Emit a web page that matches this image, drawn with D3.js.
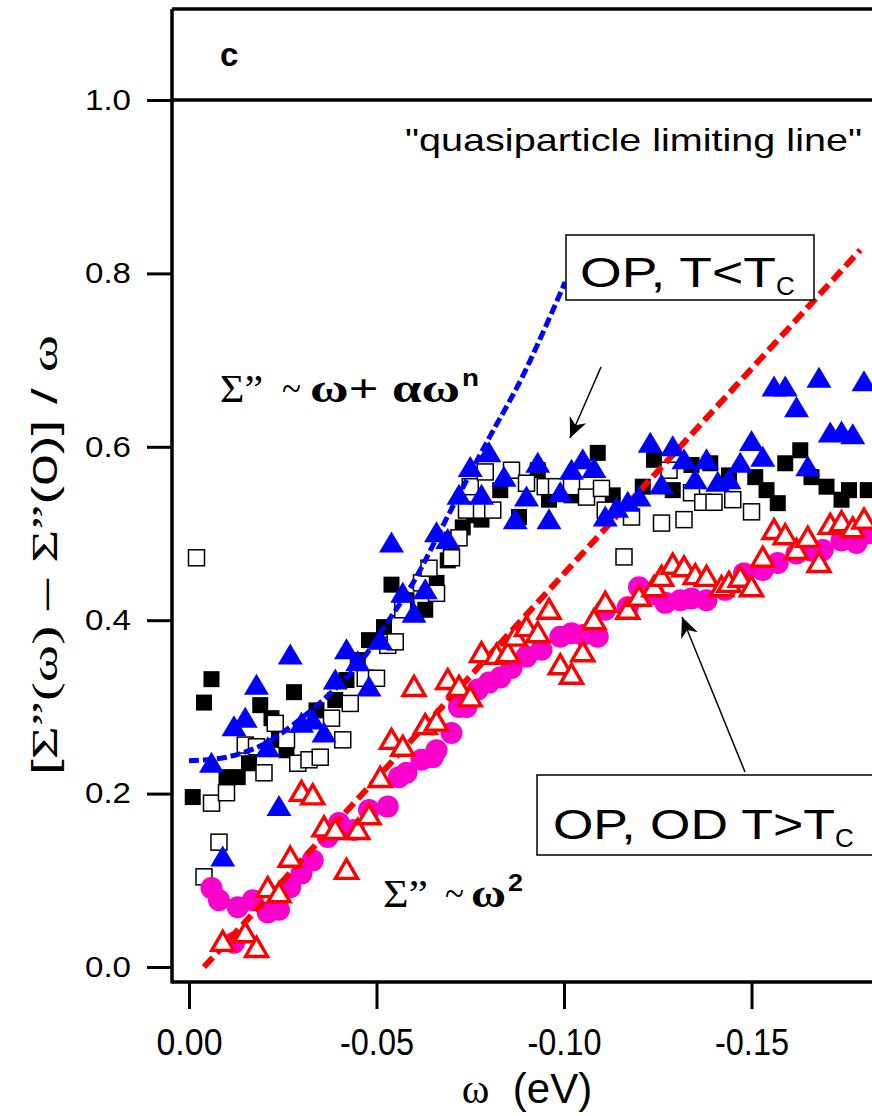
<html>
<head>
<meta charset="utf-8">
<script src="https://d3js.org/d3.v7.min.js"></script>
<style>
  body { margin: 0; background: #fff; }
  text { font-family: "Liberation Sans", Arial, sans-serif; }
  .serif { font-family: "Liberation Serif", "Times New Roman", serif; }
</style>
</head>
<body>
<svg id="chart"></svg>
<script>
// data: [omega (eV), (Σ''(ω)-Σ''(0))/ω]
const solidSquares = [
  [-0.001,0.196],[-0.004,0.305],[-0.006,0.332],[-0.010,0.219],[-0.013,0.219],[-0.016,0.235],
  [-0.019,0.302],[-0.022,0.287],[-0.024,0.262],[-0.028,0.317],[-0.026,0.250],[-0.034,0.296],
  [-0.039,0.308],[-0.042,0.331],[-0.045,0.354],[-0.048,0.377],[-0.052,0.392],[-0.054,0.441],
  [-0.058,0.423],[-0.063,0.412],[-0.066,0.443],[-0.069,0.469],[-0.070,0.493],[-0.073,0.507],
  [-0.076,0.521],[-0.078,0.516],[-0.083,0.550],[-0.088,0.519],[-0.093,0.573],[-0.096,0.539],
  [-0.102,0.544],[-0.109,0.593],[-0.113,0.544],[-0.121,0.554],[-0.124,0.585],[-0.129,0.550],
  [-0.134,0.579],[-0.139,0.581],[-0.144,0.567],[-0.151,0.565],[-0.154,0.550],[-0.157,0.535],
  [-0.159,0.581],[-0.163,0.596],[-0.166,0.565],[-0.170,0.554],[-0.174,0.539],[-0.176,0.550],
  [-0.181,0.550]
];
const openSquares = [
  [-0.002,0.472],[-0.004,0.104],[-0.008,0.144],[-0.006,0.189],[-0.010,0.201],[-0.015,0.256],
  [-0.018,0.254],[-0.020,0.224],[-0.023,0.281],[-0.026,0.262],[-0.029,0.235],[-0.032,0.239],
  [-0.035,0.242],[-0.038,0.287],[-0.041,0.262],[-0.043,0.304],[-0.047,0.333],[-0.050,0.333],
  [-0.053,0.371],[-0.055,0.375],[-0.057,0.412],[-0.062,0.443],[-0.064,0.460],[-0.066,0.431],
  [-0.070,0.472],[-0.072,0.495],[-0.074,0.527],[-0.075,0.554],[-0.078,0.527],[-0.079,0.571],
  [-0.081,0.527],[-0.086,0.573],[-0.090,0.558],[-0.095,0.554],[-0.098,0.554],[-0.102,0.554],
  [-0.106,0.542],[-0.110,0.552],[-0.111,0.527],[-0.116,0.473],[-0.118,0.519],[-0.126,0.512],
  [-0.128,0.573],[-0.132,0.516],[-0.134,0.547],[-0.137,0.536],[-0.140,0.536],[-0.145,0.539],
  [-0.150,0.525]
];
const blueTriangles = [
  [-0.009,0.127],[-0.024,0.185],[-0.006,0.235],[-0.012,0.277],[-0.015,0.287],[-0.018,0.325],
  [-0.021,0.253],[-0.027,0.360],[-0.030,0.281],[-0.033,0.285],[-0.036,0.270],[-0.039,0.331],
  [-0.042,0.366],[-0.045,0.352],[-0.048,0.323],[-0.051,0.377],[-0.054,0.489],[-0.057,0.431],
  [-0.060,0.408],[-0.063,0.435],[-0.066,0.501],[-0.069,0.493],[-0.072,0.544],[-0.075,0.576],
  [-0.078,0.544],[-0.080,0.593],[-0.084,0.565],[-0.087,0.516],[-0.090,0.542],[-0.093,0.581],
  [-0.096,0.516],[-0.099,0.547],[-0.102,0.573],[-0.105,0.585],[-0.108,0.575],[-0.111,0.519],
  [-0.114,0.529],[-0.117,0.536],[-0.120,0.542],[-0.123,0.604],[-0.126,0.556],[-0.129,0.600],
  [-0.132,0.585],[-0.135,0.562],[-0.138,0.585],[-0.141,0.559],[-0.144,0.562],[-0.147,0.581],
  [-0.150,0.606],[-0.153,0.588],[-0.156,0.669],[-0.159,0.669],[-0.162,0.645],[-0.165,0.577],
  [-0.168,0.679],[-0.171,0.616],[-0.174,0.617],[-0.177,0.614],[-0.180,0.675]
];
const redTriangles = [
  [-0.009,0.029],[-0.015,0.039],[-0.018,0.022],[-0.021,0.091],[-0.024,0.085],[-0.027,0.126],
  [-0.030,0.202],[-0.033,0.198],[-0.036,0.161],[-0.039,0.158],[-0.042,0.112],[-0.045,0.158],
  [-0.048,0.175],[-0.051,0.218],[-0.054,0.262],[-0.057,0.254],[-0.060,0.323],[-0.063,0.279],
  [-0.066,0.283],[-0.069,0.331],[-0.072,0.323],[-0.075,0.311],[-0.078,0.362],[-0.082,0.360],
  [-0.085,0.362],[-0.087,0.381],[-0.090,0.392],[-0.093,0.385],[-0.096,0.412],[-0.099,0.348],
  [-0.102,0.337],[-0.105,0.363],[-0.108,0.400],[-0.111,0.420],[-0.117,0.412],[-0.120,0.427],
  [-0.124,0.438],[-0.126,0.450],[-0.129,0.464],[-0.132,0.461],[-0.135,0.452],[-0.138,0.450],
  [-0.142,0.438],[-0.144,0.443],[-0.147,0.449],[-0.150,0.438],[-0.153,0.472],[-0.156,0.504],
  [-0.159,0.498],[-0.162,0.481],[-0.165,0.495],[-0.168,0.466],[-0.171,0.510],[-0.174,0.513],
  [-0.177,0.506],[-0.180,0.516]
];
const magentaCircles = [
  [-0.012,0.028],[-0.006,0.091],[-0.008,0.077],[-0.013,0.069],[-0.017,0.077],[-0.021,0.063],
  [-0.024,0.066],[-0.027,0.092],[-0.030,0.108],[-0.033,0.123],[-0.037,0.150],[-0.040,0.166],
  [-0.044,0.158],[-0.048,0.181],[-0.053,0.185],[-0.056,0.219],[-0.058,0.224],[-0.062,0.239],
  [-0.065,0.242],[-0.066,0.250],[-0.070,0.270],[-0.072,0.300],[-0.074,0.300],[-0.077,0.320],
  [-0.080,0.328],[-0.083,0.334],[-0.086,0.345],[-0.090,0.358],[-0.094,0.366],[-0.099,0.381],
  [-0.102,0.385],[-0.105,0.383],[-0.109,0.381],[-0.111,0.412],[-0.117,0.415],[-0.120,0.438],
  [-0.124,0.430],[-0.127,0.420],[-0.131,0.423],[-0.134,0.425],[-0.138,0.423],[-0.143,0.435],
  [-0.148,0.454],[-0.153,0.458],[-0.157,0.466],[-0.162,0.477],[-0.166,0.480],[-0.169,0.481],
  [-0.174,0.492],[-0.178,0.489],[-0.181,0.500]
];
// fitted curves as drawn on the figure
const blueFit = [
  [0.000,0.238],[-0.010,0.242],[-0.020,0.257],[-0.027,0.277],[-0.035,0.305],[-0.045,0.348],
  [-0.053,0.398],[-0.060,0.445],[-0.069,0.520],[-0.080,0.610],[-0.088,0.673],[-0.094,0.728],
  [-0.1003,0.790]
];
const redFit = [[-0.004,0.0],[-0.179,0.827]];

const xTicks = [0, -0.05, -0.10, -0.15];
const yTicks = [0, 0.2, 0.4, 0.6, 0.8, 1.0];

const W = 872, H = 1116;
const svg = d3.select('#chart').attr('width', W).attr('height', H);
svg.append('rect').attr('width', W).attr('height', H).attr('fill', '#fff');

const pl = 172, pr = 872, pt = 9, pb = 982;
const x = d3.scaleLinear().domain([0.00453, -0.18213]).range([pl, pr]);
const y = d3.scaleLinear().domain([0, 1]).range([967, 100]);

// axes
const yAxis = svg.append('g').attr('transform', `translate(${pl},0)`)
  .call(d3.axisLeft(y).tickValues(yTicks).tickSize(25).tickPadding(16)
    .tickFormat(d => d.toFixed(1)));
yAxis.select('.domain').remove();
yAxis.selectAll('line').attr('stroke-width', 3);
yAxis.selectAll('text').attr('font-size', 29).attr('fill', '#000')
  .attr('font-family', '"Liberation Sans", Arial, sans-serif')
  .attr('textLength', 46).attr('lengthAdjust', 'spacingAndGlyphs');

const xAxis = svg.append('g').attr('transform', `translate(0,${pb})`)
  .call(d3.axisBottom(x).tickValues(xTicks).tickSize(27).tickPadding(20)
    .tickFormat(d => d.toFixed(2)));
xAxis.select('.domain').remove();
xAxis.selectAll('line').attr('stroke-width', 3);
xAxis.selectAll('text').attr('font-size', 37).attr('fill', '#000')
  .attr('font-family', '"Liberation Sans", Arial, sans-serif')
  .attr('textLength', d => d === 0 ? 66 : 74).attr('lengthAdjust', 'spacingAndGlyphs');

// frame
const frame = svg.append('g').attr('stroke', '#000').attr('stroke-width', 3.5);
frame.append('line').attr('x1', pl).attr('x2', pl).attr('y1', pt).attr('y2', pb + 1.5);
frame.append('line').attr('x1', pl).attr('x2', pr).attr('y1', pt).attr('y2', pt);
frame.append('line').attr('x1', pl).attr('x2', pr).attr('y1', pb).attr('y2', pb);
frame.append('line').attr('x1', pl).attr('x2', pr).attr('y1', y(1)).attr('y2', y(1));

svg.append('text').attr('x', 220).attr('y', 66).attr('font-size', 33).attr('font-weight', 'bold').text('c');
svg.append('text').attr('x', 405).attr('y', 151).attr('font-size', 32)
  .attr('textLength', 457).attr('lengthAdjust', 'spacingAndGlyphs')
  .text('"quasiparticle limiting line"');

// y title
const yt = svg.append('text').attr('transform', 'translate(57,555) rotate(-90)')
  .attr('text-anchor', 'middle').attr('font-size', 35)
  .attr('textLength', 440).attr('lengthAdjust', 'spacingAndGlyphs');
yt.append('tspan').text('[');
yt.append('tspan').attr('class', 'serif').text('Σ”(ω)');
yt.append('tspan').text(' – ');
yt.append('tspan').attr('class', 'serif').text('Σ”');
yt.append('tspan').text('(0)] / ');
yt.append('tspan').attr('class', 'serif').text('ω');

// x title
const xt = svg.append('text').attr('x', 527).attr('y', 1103).attr('text-anchor', 'middle').attr('font-size', 42);
xt.append('tspan').attr('class', 'serif').text('ω');
xt.append('tspan').text('\u00a0 (eV)');

// markers
const plot = svg.append('g');
const sq = 16;
plot.selectAll('.bsq').data(solidSquares).join('rect').attr('class', 'bsq')
  .attr('x', d => x(d[0]) - sq / 2).attr('y', d => y(d[1]) - sq / 2)
  .attr('width', sq).attr('height', sq).attr('fill', '#000');
plot.selectAll('.osq').data(openSquares).join('rect').attr('class', 'osq')
  .attr('x', d => x(d[0]) - sq / 2).attr('y', d => y(d[1]) - sq / 2)
  .attr('width', sq).attr('height', sq).attr('fill', '#fff')
  .attr('stroke', '#000').attr('stroke-width', 1.5);
plot.selectAll('.mc').data(magentaCircles).join('circle').attr('class', 'mc')
  .attr('cx', d => x(d[0])).attr('cy', d => y(d[1])).attr('r', 11).attr('fill', '#ff00cc');

const line = d3.line().x(d => x(d[0])).y(d => y(d[1]));
plot.append('path').datum(blueFit).attr('d', line.curve(d3.curveCatmullRom))
  .attr('fill', 'none').attr('stroke', '#0000ff').attr('stroke-width', 5).attr('stroke-dasharray', '10,4');
plot.append('path').datum(redFit).attr('d', d3.line().x(d => x(d[0])).y(d => y(d[1])))
  .attr('fill', 'none').attr('stroke', '#ff0000').attr('stroke-width', 6).attr('stroke-dasharray', '13,6');

const tri = 'M0,-11.5L12.5,9.5L-12.5,9.5Z';
plot.selectAll('.bt').data(blueTriangles).join('path').attr('class', 'bt')
  .attr('transform', d => `translate(${x(d[0])},${y(d[1])})`)
  .attr('d', tri).attr('fill', '#0000ff');
plot.selectAll('.rt').data(redTriangles).join('path').attr('class', 'rt')
  .attr('transform', d => `translate(${x(d[0])},${y(d[1])})`)
  .attr('d', 'M0,-10.5L11,8.5L-11,8.5Z').attr('fill', '#fff')
  .attr('stroke', '#ff0000').attr('stroke-width', 3.4).attr('stroke-linejoin', 'miter');

// formula labels
function formula(parts) {
  parts.forEach(p => {
    const t = svg.append('text').attr('x', p.x).attr('y', p.y).attr('font-size', p.fs)
      .attr('textLength', p.w).attr('lengthAdjust', 'spacingAndGlyphs').text(p.s);
    if (p.serif) t.attr('class', 'serif');
    if (p.bold) t.attr('font-weight', 'bold');
  });
}
formula([
  {x: 220, y: 402, fs: 40, w: 43, s: 'Σ”', serif: true},
  {x: 282, y: 402, fs: 40, w: 19, s: '~', serif: true},
  {x: 310, y: 402, fs: 40, w: 150, s: 'ω+ αω', serif: true, bold: true},
  {x: 462, y: 386, fs: 24, w: 17, s: 'n', bold: true}
]);
formula([
  {x: 383, y: 907, fs: 40, w: 45, s: 'Σ”', serif: true},
  {x: 445, y: 907, fs: 40, w: 19, s: '~', serif: true},
  {x: 471, y: 907, fs: 40, w: 35, s: 'ω', serif: true, bold: true},
  {x: 508, y: 891, fs: 24, w: 15, s: '2', bold: true}
]);

// callout boxes
function box(x0, y0, w, h, tx, ty, main, tl) {
  svg.append('rect').attr('x', x0).attr('y', y0).attr('width', w).attr('height', h)
    .attr('fill', '#fff').attr('stroke', '#000').attr('stroke-width', 1.5);
  const t = svg.append('text').attr('x', tx).attr('y', ty).attr('font-size', 42);
  t.append('tspan').attr('textLength', tl).attr('lengthAdjust', 'spacingAndGlyphs').text(main);
  t.append('tspan').attr('font-size', 26).attr('dy', 8).text('C');
}
box(566, 235, 248, 65, 580, 287, 'OP, T<T', 196);
box(537, 775, 340, 80, 553, 839, 'OP, OD T>T', 282);

// arrows
svg.append('defs').append('marker').attr('id', 'ah')
  .attr('viewBox', '-20 -10 22 20').attr('refX', 0).attr('refY', 0)
  .attr('markerWidth', 22).attr('markerHeight', 20).attr('markerUnits', 'userSpaceOnUse')
  .attr('orient', 'auto')
  .append('path').attr('d', 'M0,0L-20,-9L-14,0L-20,9Z').attr('fill', '#000');
svg.append('line').attr('x1', 601).attr('y1', 367).attr('x2', 570).attr('y2', 438)
  .attr('stroke', '#000').attr('stroke-width', 1.5).attr('marker-end', 'url(#ah)');
svg.append('line').attr('x1', 745).attr('y1', 772).attr('x2', 682).attr('y2', 617)
  .attr('stroke', '#000').attr('stroke-width', 1.5).attr('marker-end', 'url(#ah)');
</script>
</body>
</html>
